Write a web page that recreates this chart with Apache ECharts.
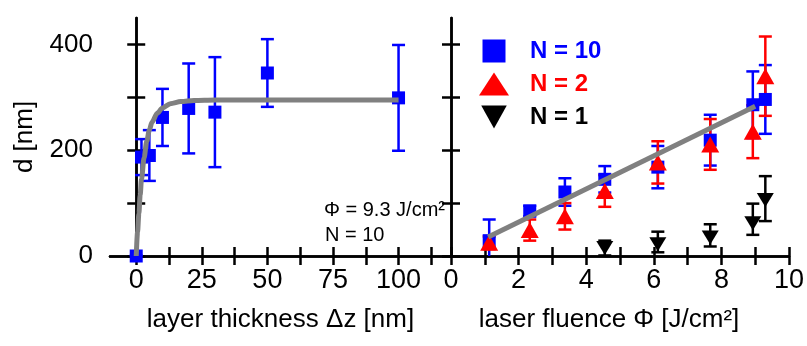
<!DOCTYPE html>
<html>
<head>
<meta charset="utf-8">
<script src="https://cdn.jsdelivr.net/npm/echarts@6/dist/echarts.min.js"></script>
<style>
	html,body{margin:0;padding:0;background:#fff;}
	#chart{width:807px;height:346px;}
</style>
</head>
<body>
<div id="chart"></div>
<script>
// left panel: d vs layer thickness (N = 10, fluence 9.3 J/cm2)
var thickX = [0, 2, 5, 10, 20, 30, 50, 100];
var thickD = [0, 187, 190, 262, 279, 272, 346, 299];
var thickErr = [0, 34, 48, 54, 85, 104, 64, 100];
// fit curve
var thickFitX = [0, 0.5, 1, 1.5, 2, 3, 4, 5, 6, 8, 10, 13, 17, 22, 30, 100];
var thickFitY = [0, 45, 80, 115, 145, 186, 217, 238, 253, 270, 280, 288, 292, 294, 295, 295];

// right panel: d vs laser fluence
var fluX = [1.13, 2.33, 3.37, 4.55, 6.12, 7.67, 8.93, 9.3];
var n10 = [29, 85, 121, 145, 168, 219, 286, 296];
var n10Err = [40, 10, 26, 25, 40, 48, 63, 65];
var n2 = [25, 49, 75, 123, 177, 211, 235, 340];
var n2Err = [12, 20, 25, 30, 40, 48, 50, 75];
var flu1X = [4.55, 6.12, 7.67, 8.93, 9.3];
var n1 = [15, 22, 35, 62, 106];
var n1ErrUp = [14, 24, 25, 37, 45];
var n1ErrDn = [14, 15, 17, 22, 40];
var fluFitX = [1.1, 9.0];
var fluFitY = [36, 283];

// tick labels
var yTicks = [0, 100, 200, 300, 400];
var yLabels = [0, 200, 400];
var thickTicks = [0, 12.5, 25, 37.5, 50, 62.5, 75, 87.5, 100, 112.5];
var thickLabels = [0, 25, 50, 75, 100];
var fluTicks = [0, 1, 2, 3, 4, 5, 6, 7, 8, 9, 10];
var fluLabels = [0, 2, 4, 6, 8, 10];

var FONT = 'Liberation Sans';

function pairs(xs, ys){
	return xs.map(function(x, i){ return [x, ys[i]]; });
}
function errRows(xs, ys, up, dn){
	return xs.map(function(x, i){ return [x, ys[i] - dn[i], ys[i] + up[i]]; });
}
//误差棒
function errSeries(name, xi, yi, rows, color){
	return {
		name: name,
		type: 'custom',
		xAxisIndex: xi,
		yAxisIndex: yi,
		clip: true,
		silent: true,
		data: rows,
		renderItem: function(params, api){
			var lo = api.coord([api.value(0), api.value(1)]);
			var hi = api.coord([api.value(0), api.value(2)]);
			var w = 6.5;
			var st = {stroke: color, lineWidth: 2.5};
			return {
				type: 'group',
				children: [
					{type: 'line', shape: {x1: lo[0], y1: lo[1], x2: hi[0], y2: hi[1]}, style: st},
					{type: 'line', shape: {x1: lo[0] - w, y1: lo[1], x2: lo[0] + w, y2: lo[1]}, style: st},
					{type: 'line', shape: {x1: hi[0] - w, y1: hi[1], x2: hi[0] + w, y2: hi[1]}, style: st}
				]
			};
		}
	};
}

var axisLine = {show: true, lineStyle: {color: '#000', width: 2.5}};
function tick(vals){
	return {show: true, length: 9, lineStyle: {color: '#000', width: 2.5}, customValues: vals};
}
function lbl(vals, margin, size){
	return {show: true, customValues: vals, margin: margin, color: '#000', fontSize: size, fontFamily: FONT};
}

var chart = echarts.init(document.getElementById('chart'));
var option = {
	animation: false,
	backgroundColor: '#fff',
	textStyle: {fontFamily: FONT},
	grid: [
		{left: 110, right: 356, top: 18, bottom: 90},
		{left: 451, right: 15, top: 18, bottom: 90}
	],
	legend: {
		orient: 'vertical',
		left: 474,
		top: 34,
		itemWidth: 30,
		itemHeight: 23,
		itemGap: 9,
		textStyle: {fontSize: 24, fontWeight: 'bold', fontFamily: FONT, padding: [0, 0, 0, 16]},
		data: [
			{name: 'N = 10', icon: 'path://M0,0L10,0L10,10L0,10Z', itemStyle: {opacity: 1}, textStyle: {color: '#0000ff'}},
			{name: 'N = 2', icon: 'triangle', itemStyle: {opacity: 1}, textStyle: {color: '#ff0000'}},
			{name: 'N = 1', icon: 'path://M0,0L10,0L5,9Z', itemStyle: {opacity: 1}, textStyle: {color: '#000'}}
		]
	},
	xAxis: [
		{
			gridIndex: 0, type: 'value', position: 'bottom', min: -10, max: 120,
			axisLine: axisLine, axisTick: tick(thickTicks), splitLine: {show: false},
			axisLabel: lbl(thickLabels, 11, 27),
			name: 'layer thickness \u0394z [nm]', nameLocation: 'middle', nameGap: 51,
			nameTextStyle: {color: '#000', fontSize: 26, fontFamily: FONT}
		},
		{
			gridIndex: 0, type: 'value', position: 'top', min: -10, max: 120,
			axisLine: axisLine, axisTick: tick(thickTicks), splitLine: {show: false},
			axisLabel: {show: false}
		},
		{
			gridIndex: 1, type: 'value', position: 'bottom', min: 0, max: 10,
			axisLine: axisLine, axisTick: tick(fluTicks), splitLine: {show: false},
			axisLabel: lbl(fluLabels, 11, 27),
			name: 'laser fluence \u03a6 [J/cm\u00b2]', nameLocation: 'middle', nameGap: 51,
			nameTextStyle: {color: '#000', fontSize: 26, fontFamily: FONT, padding: [0, 22, 0, 0]}
		},
		{
			gridIndex: 1, type: 'value', position: 'top', min: 0, max: 10,
			axisLine: axisLine, axisTick: tick(fluTicks), splitLine: {show: false},
			axisLabel: {show: false}
		}
	],
	yAxis: [
		{
			gridIndex: 0, type: 'value', position: 'left', min: 0, max: 450,
			axisLine: axisLine, axisTick: tick(yTicks), splitLine: {show: false},
			axisLabel: lbl(yLabels, 17, 26),
			name: 'd [nm]', nameLocation: 'middle', nameGap: 72, nameRotate: 90,
			nameTextStyle: {color: '#000', fontSize: 26, fontFamily: FONT}
		},
		{
			gridIndex: 0, type: 'value', position: 'right', min: 0, max: 450,
			axisLine: axisLine, axisTick: tick(yTicks), splitLine: {show: false},
			axisLabel: {show: false}
		},
		{
			gridIndex: 1, type: 'value', position: 'left', min: 0, max: 450,
			axisLine: axisLine, axisTick: tick(yTicks), splitLine: {show: false},
			axisLabel: {show: false}
		},
		{
			gridIndex: 1, type: 'value', position: 'right', min: 0, max: 450,
			axisLine: axisLine, axisTick: tick(yTicks), splitLine: {show: false},
			axisLabel: {show: false}
		}
	],
	graphic: [
		{type: 'text', left: 324, top: 200, style: {text: '\u03a6 = 9.3 J/cm\u00b2', fontSize: 20, fontFamily: FONT, fill: '#000'}},
		{type: 'text', left: 325, top: 225, style: {text: 'N = 10', fontSize: 20, fontFamily: FONT, fill: '#000'}}
	],
	series: [
		{
			type: 'line', xAxisIndex: 0, yAxisIndex: 0, data: pairs(thickFitX, thickFitY),
			smooth: 0.3, smoothMonotone: 'x', showSymbol: false, silent: true,
			lineStyle: {color: '#808080', width: 5}
		},
		errSeries('errThick', 0, 0, errRows(thickX, thickD, thickErr, thickErr), '#0000ff'),
		{
			type: 'scatter', xAxisIndex: 0, yAxisIndex: 0, data: pairs(thickX, thickD),
			symbol: 'rect', symbolSize: 13, itemStyle: {color: '#0000ff', opacity: 1}
		},
		{
			type: 'line', xAxisIndex: 2, yAxisIndex: 2, data: pairs(fluFitX, fluFitY),
			showSymbol: false, silent: true, lineStyle: {color: '#808080', width: 5}
		},
		errSeries('err10', 2, 2, errRows(fluX, n10, n10Err, n10Err), '#0000ff'),
		{
			name: 'N = 10', type: 'scatter', xAxisIndex: 2, yAxisIndex: 2, data: pairs(fluX, n10),
			symbol: 'rect', symbolSize: 13, itemStyle: {color: '#0000ff', opacity: 1}
		},
		errSeries('err2', 2, 2, errRows(fluX, n2, n2Err, n2Err), '#ff0000'),
		{
			name: 'N = 2', type: 'scatter', xAxisIndex: 2, yAxisIndex: 2, data: pairs(fluX, n2),
			symbol: 'triangle', symbolSize: [18, 16], itemStyle: {color: '#ff0000', opacity: 1}
		},
		errSeries('err1', 2, 2, errRows(flu1X, n1, n1ErrUp, n1ErrDn), '#000'),
		{
			name: 'N = 1', type: 'scatter', xAxisIndex: 2, yAxisIndex: 2, data: pairs(flu1X, n1),
			symbol: 'triangle', symbolRotate: 180, symbolSize: [17, 14], itemStyle: {color: '#000', opacity: 1}
		}
	]
};
chart.setOption(option);
</script>
</body>
</html>
